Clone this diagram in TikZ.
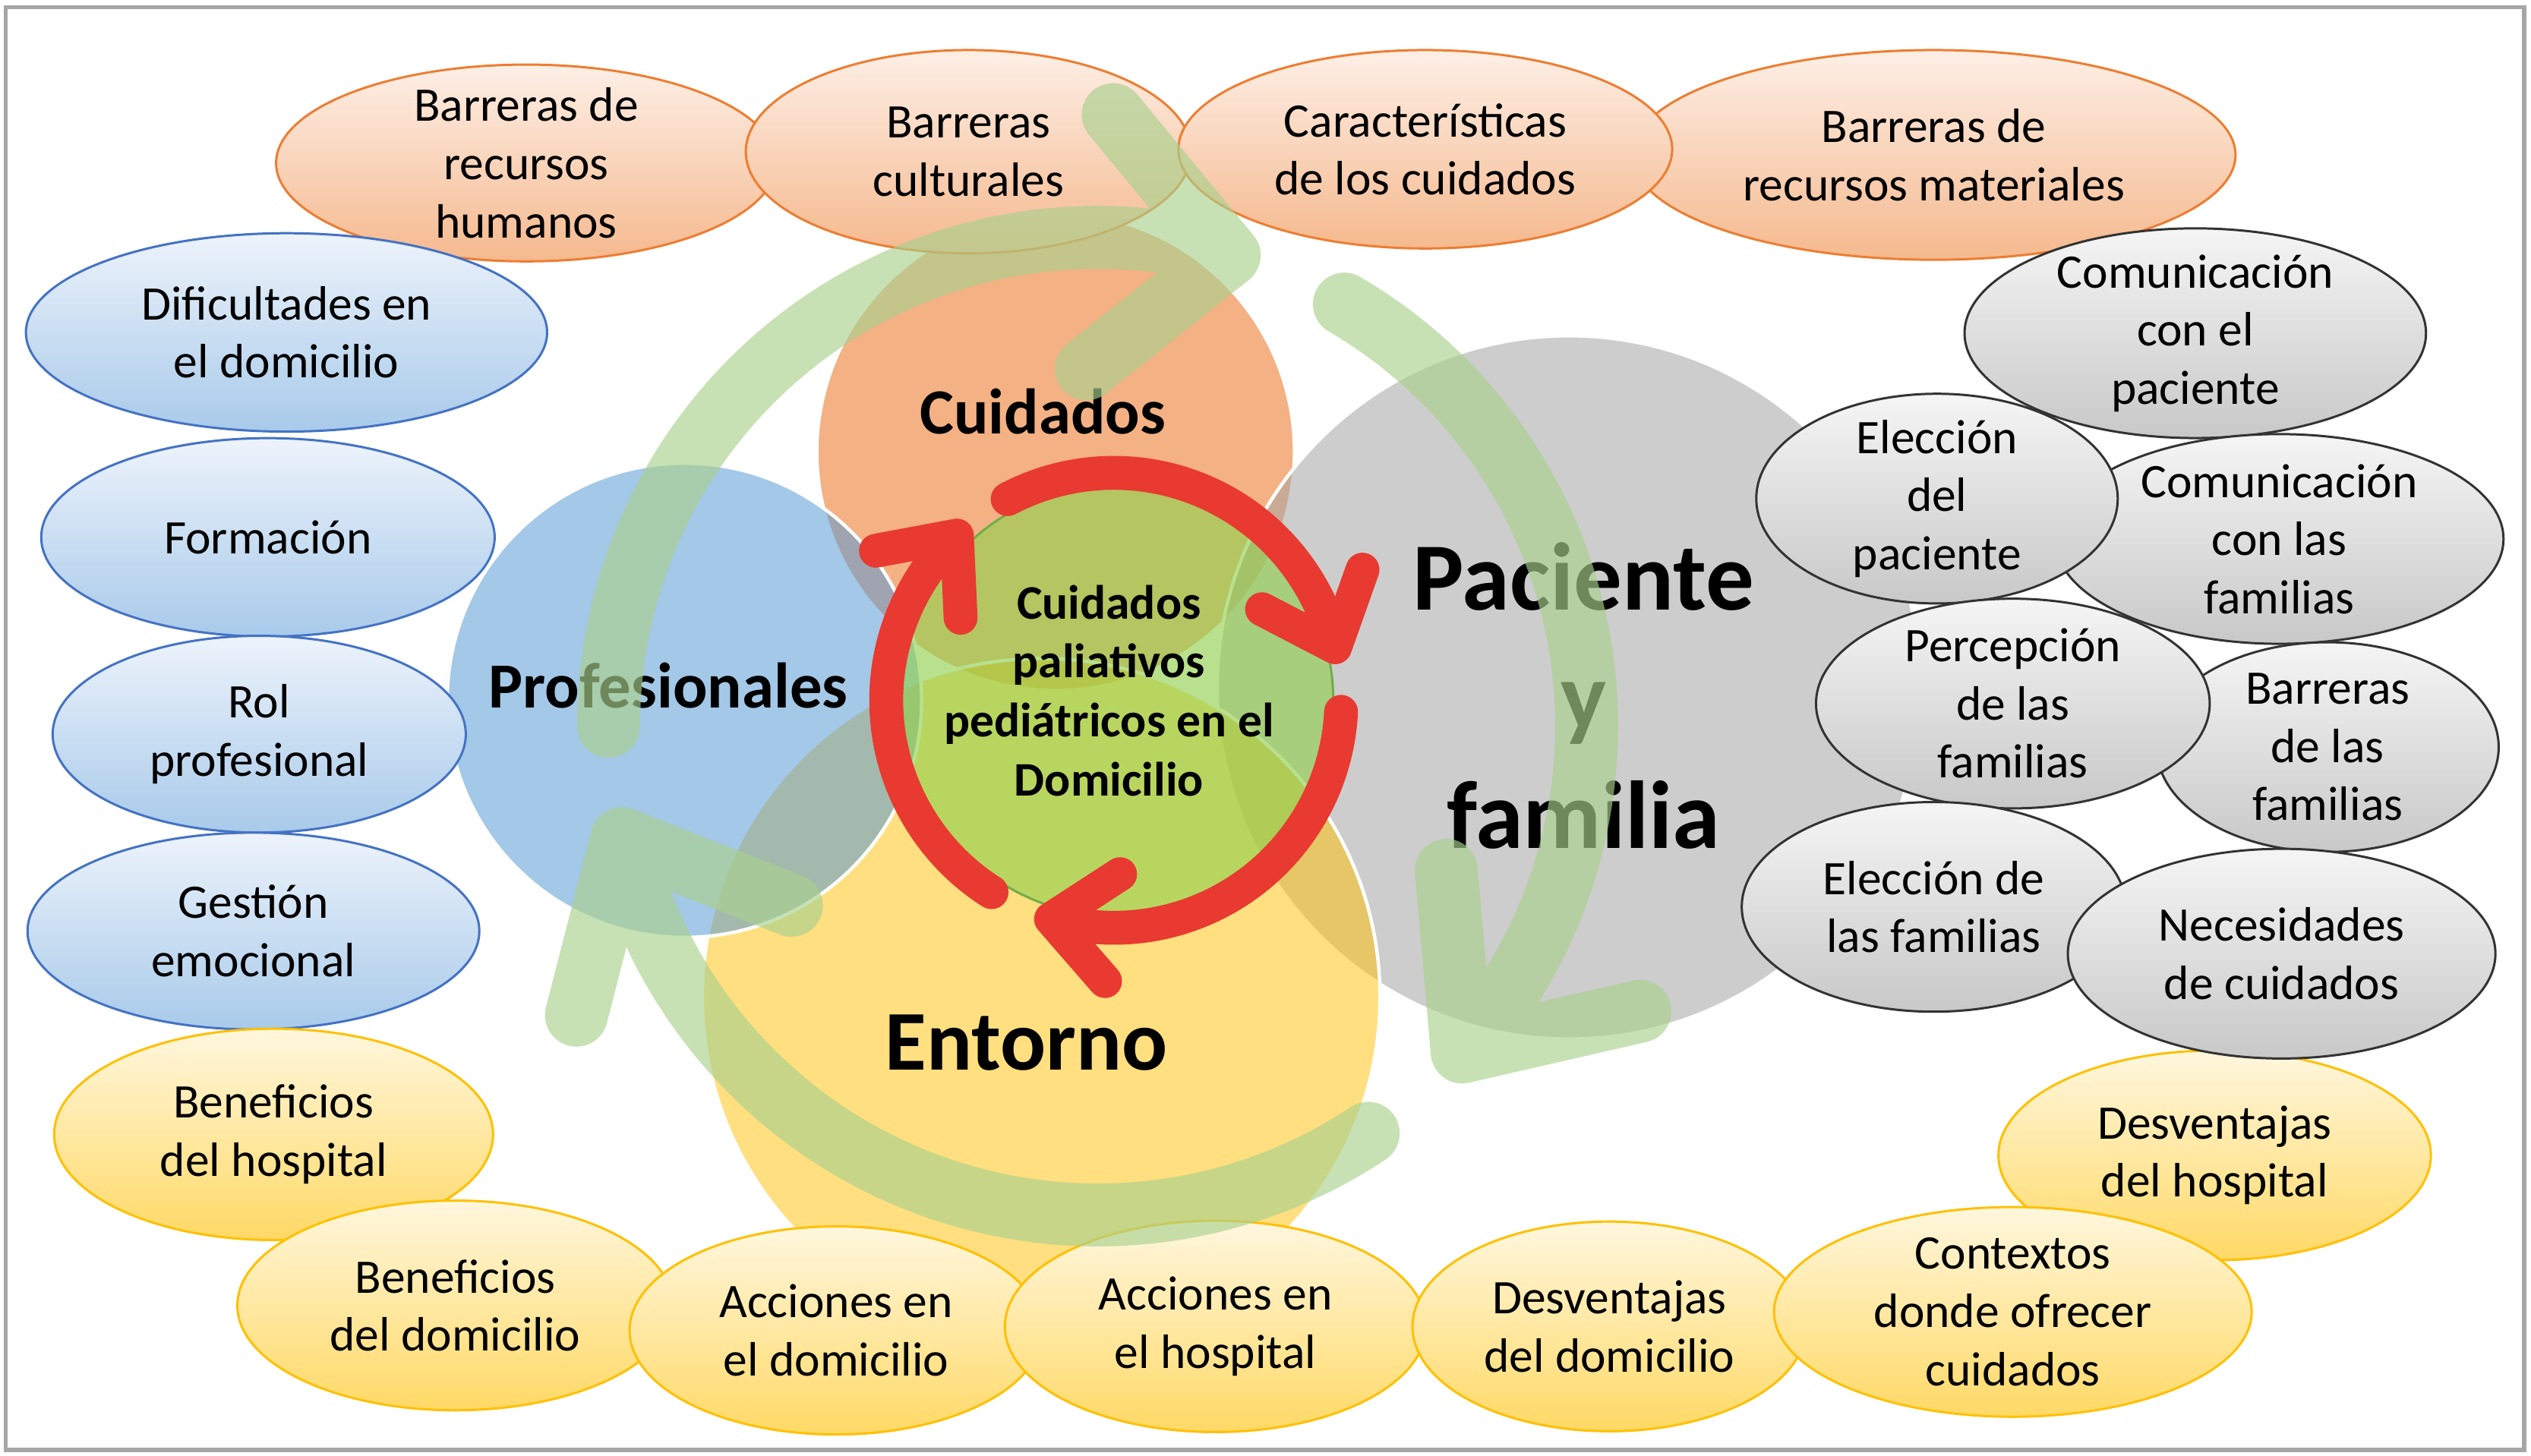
\documentclass[tikz,border=0pt]{standalone}
\usepackage{fontspec}
\setmainfont{Carlito}
\usetikzlibrary{shapes.geometric}

\definecolor{orangeA}{HTML}{ED7D31}
\definecolor{orangeT}{HTML}{FDEFE6}
\definecolor{orangeB}{HTML}{F5B98E}
\definecolor{blueA}{HTML}{5B9BD5}
\definecolor{blueE}{HTML}{4472C4}
\definecolor{blueT}{HTML}{EDF3FB}
\definecolor{blueB}{HTML}{A8CAEA}
\definecolor{goldA}{HTML}{FFC000}
\definecolor{goldT}{HTML}{FFF7DE}
\definecolor{goldB}{HTML}{FFD966}
\definecolor{greyA}{HTML}{A5A5A5}
\definecolor{greyT}{HTML}{F5F5F5}
\definecolor{greyB}{HTML}{C8C8C8}
\definecolor{greenA}{HTML}{92D050}
\definecolor{greenE}{HTML}{70AD47}
\definecolor{arcgreen}{HTML}{A9D18E}
\definecolor{redA}{HTML}{E83A30}
\definecolor{frameA}{HTML}{A6A6A6}

\begin{document}
\begin{tikzpicture}[x=0.02cm, y=-0.02cm,
    every node/.style={font=\fontsize{17}{20.5}\selectfont, align=center},
    disc/.style={circle, inner sep=0pt, minimum size=#1*0.04cm, draw=white, line width=1.2pt, fill opacity=0.6},
    oval/.style 2 args={ellipse, inner sep=-0.4cm, minimum width=#1*0.04cm, minimum height=#2*0.04cm, line width=0.8pt},
    orangeoval/.style={draw=orangeA, top color=orangeT, bottom color=orangeB},
    blueoval/.style={draw=blueE, top color=blueT, bottom color=blueB},
    goldoval/.style={draw=goldA, top color=goldT, bottom color=goldB},
    greyoval/.style={draw=black!80, top color=greyT, bottom color=greyB},
    bigtxt/.style 2 args={font=\bfseries\fontsize{#1}{#2}\selectfont, inner sep=0pt},
    ringarrow/.style={draw=redA, line width=0.42cm, line cap=round, line join=round},
    wheelarrow/.style={draw=arcgreen, draw opacity=0.65, line width=0.78cm, line cap=round, line join=round}
]
\fill[white] (0,0) rectangle (1568,902);
\draw[frameA, line width=1.4pt] (3.6,4.6) rectangle (1563.7,898.5);

\node[disc=148, fill=orangeA] (cuid) at (654,280) {};
\node[disc=218, fill=greyA, fill opacity=0.55] (pac) at (972,426) {};
\node[disc=210, fill=goldA, fill opacity=0.5] (ent) at (645,618) {};
\node[disc=147, fill=blueA, fill opacity=0.55] (prof) at (424,434) {};

\node[bigtxt={22.7pt}{28pt}] (cuidtxt) at (646,255) {Cuidados};
\node[bigtxt={34pt}{42pt}] (pactxt) at (981,431) {Paciente\\y\\familia};
\node[bigtxt={30pt}{37pt}] (enttxt) at (636,646) {Entorno};
\node[bigtxt={22.7pt}{28pt}] (proftxt) at (414,425) {Profesionales};

\node[disc=134, fill=greenA, draw=greenE, line width=0.8pt, fill opacity=0.65] (centro) at (692,434) {};
\node[bigtxt={17pt}{20.8pt}] (centxt) at (687,428) {Cuidados\\paliativos\\pediátricos en el\\Domicilio};

\coordinate (rc) at (690,434);
\draw[ringarrow] ([shift={(237.5:2.82cm)}]rc) arc[start angle=237.5, end angle=133.6, radius=2.82cm] coordinate (ta) -- ++(190.6:1.02cm) (ta) -- ++(272.6:1.02cm);
\draw[ringarrow] ([shift={(117.8:2.82cm)}]rc) arc[start angle=117.8, end angle=13.5, radius=2.82cm] coordinate (tb) -- ++(70.5:1.02cm) (tb) -- ++(152.5:1.02cm);
\draw[ringarrow] ([shift={(-2.9:2.82cm)}]rc) arc[start angle=-2.9, end angle=-106, radius=2.82cm] coordinate (tc) -- ++(-49:1.02cm) (tc) -- ++(33:1.02cm);

\node[oval={155}{61}, orangeoval] (bhum) at (326,101) {Barreras de\\recursos\\humanos};
\node[oval={138}{63}, orangeoval] (bcult) at (600,94) {Barreras\\culturales};
\node[oval={187}{65}, orangeoval] (bmat) at (1198,96) {Barreras de\\recursos materiales};
\node[oval={153}{61.5}, orangeoval] (carac) at (883,92.5) {Características\\de los cuidados};

\node[oval={161.5}{61.5}, blueoval] (dific) at (177.5,206) {Dificultades en\\el domicilio};
\node[oval={140.5}{61.5}, blueoval] (form) at (166,333) {Formación};
\node[oval={128}{61}, blueoval] (rol) at (160.6,455) {Rol\\profesional};
\node[oval={140}{61}, blueoval] (gest) at (157,577) {Gestión\\emocional};

\node[oval={134}{65}, goldoval] (deshosp) at (1372,716) {Desventajas\\del hospital};
\node[oval={136}{65.5}, goldoval] (benhosp) at (169.5,703) {Beneficios\\del hospital};
\node[oval={135}{65}, goldoval] (bendom) at (282,809) {Beneficios\\del domicilio};
\node[oval={128}{64.5}, goldoval] (accdom) at (518,824.5) {Acciones en\\el domicilio};
\node[oval={130.5}{65.5}, goldoval] (acchosp) at (753,822) {Acciones en\\el hospital};
\node[oval={122}{65}, goldoval] (desdom) at (997,822) {Desventajas\\del domicilio};
\node[oval={148}{65}, goldoval] (contx) at (1247,813) {Contextos\\donde ofrecer\\cuidados};

\node[oval={143}{65}, greyoval] (compac) at (1360,206.5) {Comunicación\\con el\\paciente};
\node[oval={139}{65}, greyoval] (comfam) at (1412,334) {Comunicación\\con las\\familias};
\node[oval={112}{65}, greyoval] (elecpac) at (1200,309) {Elección\\del\\paciente};
\node[oval={106}{65}, greyoval] (barrfam) at (1442,463) {Barreras\\de las\\familias};
\node[oval={122}{65}, greyoval] (percfam) at (1247,436) {Percepción\\de las\\familias};
\node[oval={119}{65}, greyoval] (elecfam) at (1198,562) {Elección de\\las familias};
\node[oval={132.5}{65}, greyoval] (neces) at (1413.5,591) {Necesidades\\de cuidados};

\coordinate (gc) at (680,450);
\draw[wheelarrow] ([shift={(180:6.06cm)}]gc) arc[start angle=180, end angle=74.4, radius=6.06cm] coordinate (t1) -- ++(129.5:2.26cm) (t1) -- ++(218.5:2.26cm);
\draw[wheelarrow] ([shift={(59.7:6.06cm)}]gc) arc[start angle=59.7, end angle=-41.8, radius=6.06cm] coordinate (t2) -- ++(12.9:2.26cm) (t2) -- ++(95:2.26cm);
\draw[wheelarrow] ([shift={(-56.4:6.06cm)}]gc) arc[start angle=-56.4, end angle=-166.7, radius=6.06cm] coordinate (t3) -- ++(255.6:2.26cm) (t3) -- ++(338.5:2.26cm);
\end{tikzpicture}
\end{document}
